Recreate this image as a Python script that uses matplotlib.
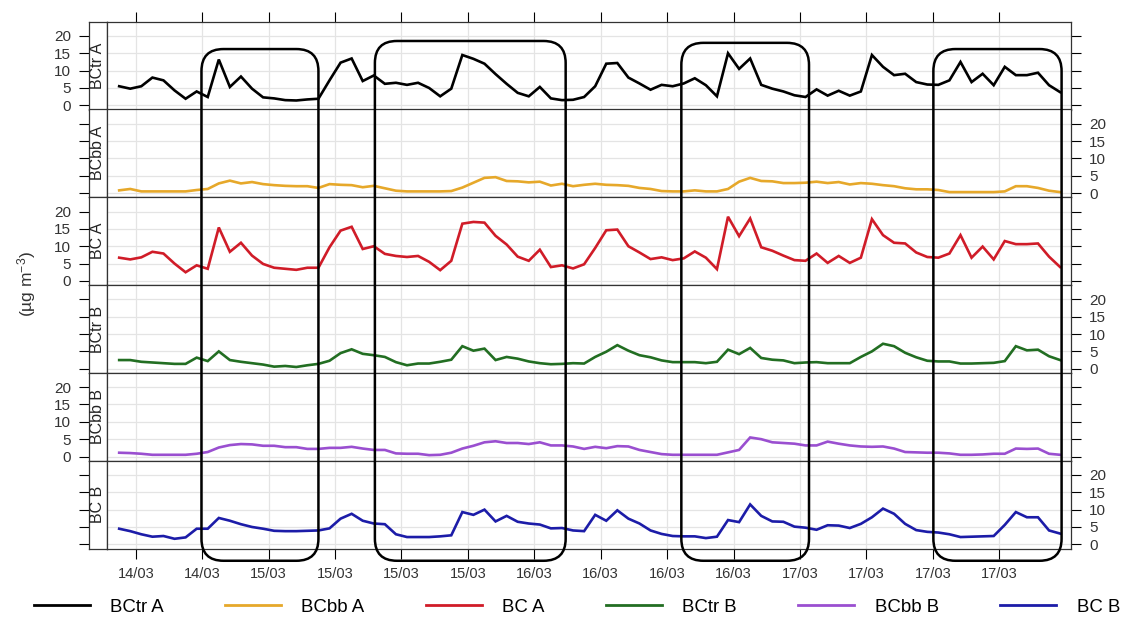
import pandas as pd
import matplotlib
matplotlib.use('Agg')
import matplotlib.pyplot as plt
import matplotlib.dates as mdates
from matplotlib.patches import FancyBboxPatch
from matplotlib.transforms import IdentityTransform

plt.rcParams['font.family'] = ['Liberation Sans', 'DejaVu Sans']
plt.rcParams['mathtext.default'] = 'regular'

# medias horarias, 14/03 10:30 a 17/03 23:30
fechas = pd.date_range('2019-03-14 10:30', periods=86, freq='h')

bctr_a = [5.5, 4.8, 5.5, 8.0, 7.2, 4.3, 1.9, 4.0, 2.4, 13.2,
          5.3, 8.3, 4.8, 2.3, 2.0, 1.5, 1.4, 1.7, 1.9, 7.2,
          12.3, 13.5, 7.0, 8.6, 6.2, 6.5, 5.9, 6.5, 5.0, 2.6,
          4.8, 14.5, 13.4, 12.0, 9.0, 6.2, 3.6, 2.6, 5.3, 2.0,
          1.5, 1.6, 2.4, 5.5, 12.0, 12.2, 8.0, 6.3, 4.5, 5.9,
          5.5, 6.3, 7.8, 5.8, 2.6, 15.0, 10.5, 13.5, 5.9, 4.8,
          4.0, 2.9, 2.4, 4.6, 2.8, 4.2, 2.8, 4.0, 14.5, 11.1,
          8.7, 9.1, 6.7, 6.0, 5.9, 7.2, 12.5, 6.7, 9.1, 5.8,
          11.1, 8.7, 8.7, 9.4, 5.8, 3.8]

bcbb_a = [0.8, 1.2, 0.5, 0.5, 0.5, 0.5, 0.5, 0.9, 1.2, 2.8,
          3.6, 2.8, 3.2, 2.6, 2.3, 2.1, 2.0, 2.0, 1.5, 2.6,
          2.4, 2.3, 1.7, 2.1, 1.4, 0.7, 0.5, 0.5, 0.5, 0.5,
          0.6, 1.6, 3.0, 4.4, 4.6, 3.5, 3.4, 3.1, 3.3, 2.2,
          2.7, 2.0, 2.4, 2.7, 2.4, 2.3, 2.1, 1.5, 1.2, 0.6,
          0.5, 0.5, 0.8, 0.5, 0.5, 1.2, 3.3, 4.4, 3.5, 3.4,
          2.9, 2.9, 3.0, 3.3, 2.9, 3.2, 2.5, 2.9, 2.7, 2.3,
          2.0, 1.4, 1.1, 1.1, 0.9, 0.3, 0.3, 0.3, 0.3, 0.3,
          0.5, 2.0, 2.0, 1.5, 0.7, 0.3]

bc_a = [6.7, 6.2, 6.8, 8.4, 7.9, 5.0, 2.5, 4.5, 3.5, 15.4,
        8.4, 11.0, 7.3, 4.9, 3.8, 3.5, 3.2, 3.8, 3.8, 9.7,
        14.5, 15.6, 9.2, 10.0, 7.8, 7.2, 6.9, 7.2, 5.5, 3.1,
        5.8, 16.5, 17.0, 16.8, 13.0, 10.5, 7.0, 5.8, 9.0, 4.0,
        4.5, 3.6, 4.8, 9.5, 14.6, 14.8, 10.0, 8.2, 6.3, 6.8,
        6.0, 6.5, 8.5, 6.7, 3.4, 18.5, 12.9, 18.0, 9.7, 8.7,
        7.3, 6.0, 5.8, 7.9, 5.2, 7.2, 5.2, 6.7, 17.8, 13.2,
        11.0, 10.8, 8.2, 6.9, 6.7, 7.9, 13.2, 6.7, 9.9, 6.2,
        11.5, 10.6, 10.6, 10.8, 7.0, 4.0]

bctr_b = [2.5, 2.5, 2.0, 1.8, 1.6, 1.4, 1.4, 3.2, 2.2, 5.0,
          2.5, 2.0, 1.6, 1.2, 0.6, 0.8, 0.5, 1.0, 1.4, 2.3,
          4.5, 5.6, 4.3, 3.9, 3.4, 1.9, 1.0, 1.5, 1.5, 2.0,
          2.6, 6.5, 5.2, 5.8, 2.5, 3.4, 2.9, 2.1, 1.6, 1.3,
          1.4, 1.6, 1.5, 3.4, 4.9, 6.8, 5.2, 3.9, 3.3, 2.4,
          1.9, 1.9, 1.9, 1.6, 2.0, 5.5, 4.2, 6.0, 3.1, 2.6,
          2.4, 1.6, 1.8, 1.9, 1.6, 1.6, 1.6, 3.4, 5.0, 7.2,
          6.5, 4.6, 3.3, 2.3, 2.1, 2.1, 1.5, 1.5, 1.6, 1.7,
          2.2, 6.5, 5.3, 5.5, 3.6, 2.5]

bcbb_b = [1.1, 1.0, 0.8, 0.5, 0.5, 0.5, 0.5, 0.8, 1.3, 2.6,
          3.3, 3.6, 3.5, 3.1, 3.1, 2.7, 2.7, 2.2, 2.2, 2.5,
          2.5, 2.8, 2.3, 1.9, 1.9, 0.9, 0.8, 0.8, 0.4, 0.5,
          1.1, 2.3, 3.1, 4.1, 4.4, 3.9, 3.9, 3.6, 4.1, 3.2,
          3.2, 2.9, 2.2, 2.8, 2.4, 3.0, 2.9, 1.9, 1.3, 0.7,
          0.5, 0.5, 0.5, 0.5, 0.5, 1.2, 1.9, 5.5, 5.0, 4.1,
          3.9, 3.7, 3.2, 3.2, 4.3, 3.7, 3.2, 2.9, 2.8, 2.9,
          2.3, 1.3, 1.2, 1.1, 1.1, 0.9, 0.5, 0.5, 0.6, 0.8,
          0.8, 2.3, 2.2, 2.3, 0.8, 0.5]

bc_b = [4.5, 3.8, 2.9, 2.2, 2.4, 1.6, 2.0, 4.5, 4.5, 7.6,
        6.8, 5.8, 5.0, 4.5, 3.9, 3.8, 3.8, 3.9, 4.0, 4.6,
        7.4, 8.8, 6.8, 6.0, 5.8, 2.9, 2.1, 2.1, 2.1, 2.3,
        2.6, 9.3, 8.5, 10.0, 6.6, 8.2, 6.5, 6.0, 5.7, 4.6,
        4.7, 4.0, 3.8, 8.5, 6.8, 9.8, 7.4, 6.0, 4.0, 3.0,
        2.4, 2.3, 2.3, 1.8, 2.2, 7.0, 6.4, 11.5, 8.2, 6.6,
        6.5, 5.1, 4.8, 4.2, 5.5, 5.4, 4.7, 5.9, 7.8, 10.3,
        8.8, 5.9, 4.1, 3.6, 3.4, 2.9, 2.1, 2.2, 2.3, 2.4,
        5.6, 9.3, 7.8, 7.8, 4.0, 3.1]

nombres = ['BCtr A', 'BCbb A', 'BC A', 'BCtr B', 'BCbb B', 'BC B']
valores = [bctr_a, bcbb_a, bc_a, bctr_b, bcbb_b, bc_b]
colores = ['#000000', '#e6a82a', '#d01c28', '#226e22', '#9a4fd0', '#1c1ca8']

# episodios marcados con cajas redondeadas
episodios = [('2019-03-14 17:56', '2019-03-15 04:30'),
             ('2019-03-15 09:36', '2019-03-16 02:50'),
             ('2019-03-16 13:17', '2019-03-17 00:49'),
             ('2019-03-17 12:03', '2019-03-17 23:38')]
tope_caja = [0.921, 0.934, 0.931, 0.921]
base_caja = 0.097

marcas_x = pd.date_range('2019-03-14 12:00', '2019-03-17 18:00', freq='6h')
limite_x = (pd.Timestamp('2019-03-14 09:24'), pd.Timestamp('2019-03-18 00:29'))
limite_y = (-1.2, 24.1)
marcas_y = [0, 5, 10, 15, 20]

W, H = 1129, 621
fig = plt.figure(figsize=(W / 100, H / 100), dpi=100)

x_tira, x_panel, x_fin = 89, 107, 1071
arriba, alto = 21.7, 87.8

paneles = []
for i, (nombre, y, color) in enumerate(zip(nombres, valores, colores)):
    y_abajo = 1 - (arriba + (i + 1) * alto) / H
    tira = fig.add_axes([x_tira / W, y_abajo, (x_panel - x_tira) / W, alto / H])
    ax = fig.add_axes([x_panel / W, y_abajo, (x_fin - x_panel) / W, alto / H])

    ax.plot(fechas, y, color=color, lw=1.9, solid_joinstyle='miter')
    ax.set_xlim(limite_x)
    ax.set_ylim(limite_y)
    ax.set_xticks(marcas_x)
    ax.xaxis.set_major_formatter(mdates.DateFormatter('%d/%m'))
    ax.set_yticks(marcas_y)
    ax.grid(True, color='#e4e4e4', lw=0.9)
    ax.set_axisbelow(True)
    ax.tick_params(axis='y', left=False, labelleft=False, right=True,
                   labelright=(i % 2 == 1), direction='out', length=7,
                   width=0.8, pad=6, labelsize=11, labelcolor='#333333')
    ax.tick_params(axis='x', top=(i == 0), bottom=(i == 5),
                   labelbottom=(i == 5), labeltop=False, direction='out',
                   length=7, width=0.8, pad=6, labelsize=10.5,
                   labelcolor='#333333')

    tira.set_xticks([])
    tira.set_ylim(limite_y)
    tira.set_yticks(marcas_y)
    tira.tick_params(axis='y', left=True, right=False, labelleft=(i % 2 == 0),
                     direction='out', length=7, width=0.8, pad=6,
                     labelsize=11, labelcolor='#333333')
    tira.text(0.5, 0.5, nombre, rotation=90, ha='center', va='center',
              transform=tira.transAxes, fontsize=11.5, color='#222222')

    for a in (ax, tira):
        for s in a.spines.values():
            s.set_color('#333333')
            s.set_linewidth(0.9)
    paneles.append(ax)

fig.text(27 / W, 1 - 284 / H, '(µg m$^{-3}$)', rotation=90, ha='center',
         va='center', fontsize=12.5, color='#333333')

lineas = [plt.Line2D([], [], color=c, lw=2) for c in colores]
fig.legend(lineas, nombres, loc='center', bbox_to_anchor=(0.511, 1 - 607 / H),
           ncol=6, frameon=False, fontsize=13.4, handlelength=3.0,
           handletextpad=1.1, columnspacing=3.3)

# cajas en pixeles de la figura
ax_ref = paneles[-1]
for (ini, fin), tope in zip(episodios, tope_caja):
    x0 = ax_ref.transData.transform((mdates.date2num(pd.Timestamp(ini)), 0))[0]
    x1 = ax_ref.transData.transform((mdates.date2num(pd.Timestamp(fin)), 0))[0]
    y0 = fig.transFigure.transform((0, base_caja))[1]
    y1 = fig.transFigure.transform((0, tope))[1]
    caja = FancyBboxPatch((x0, y0), x1 - x0, y1 - y0,
                          boxstyle='round,pad=0,rounding_size=22',
                          transform=IdentityTransform(), fill=False,
                          ec='black', lw=1.8, zorder=10)
    fig.add_artist(caja)

plt.savefig('out.png', dpi=100)
